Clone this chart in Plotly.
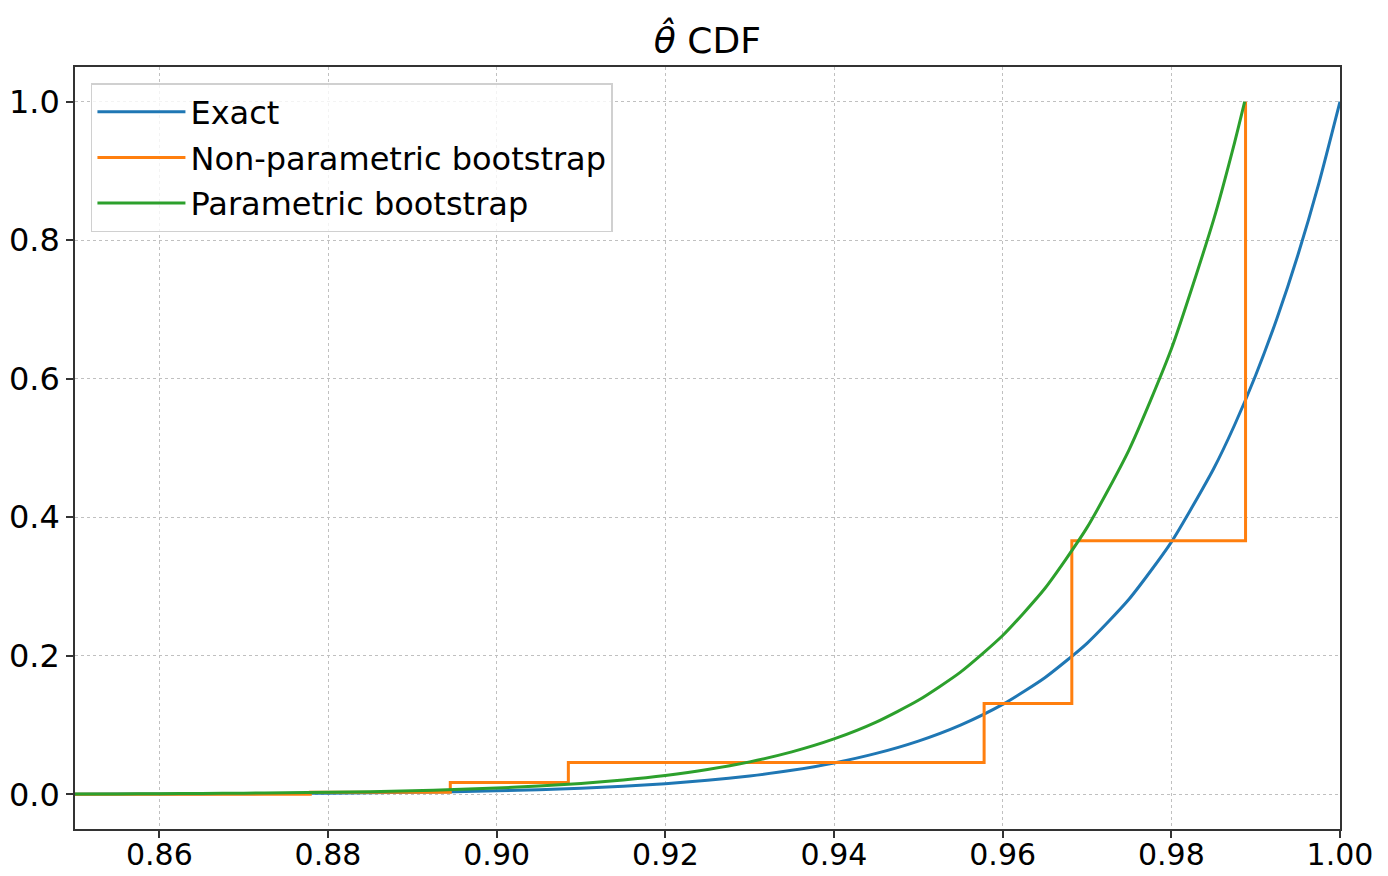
import plotly.graph_objects as go

# Exact CDF
exact_x = [0.85, 0.855, 0.86, 0.865, 0.87, 0.875, 0.88, 0.885, 0.89, 0.895,
           0.90, 0.905, 0.91, 0.915, 0.92, 0.925, 0.93, 0.935, 0.94, 0.945,
           0.95, 0.955, 0.96, 0.965, 0.97, 0.975, 0.98, 0.985, 0.9875, 0.99,
           0.9925, 0.995, 0.9975, 1.00]
exact_y = [0.0003, 0.0004, 0.0005, 0.0007, 0.0009, 0.0013, 0.0017, 0.0022, 0.0029, 0.0039,
           0.0052, 0.0068, 0.0090, 0.0118, 0.0155, 0.0203, 0.0266, 0.0347, 0.0453, 0.0591,
           0.0769, 0.1000, 0.1299, 0.1684, 0.2181, 0.2820, 0.3642, 0.4697, 0.5332, 0.6050,
           0.6863, 0.7783, 0.8824, 1.0000]

# Non-parametric bootstrap (step function)
npb_x = [0.85, 0.8779, 0.8945, 0.9085, 0.9578, 0.9682, 0.9888]
npb_y = [0.0, 0.003, 0.017, 0.046, 0.131, 0.366, 1.0]

# Parametric bootstrap
pb_x = [0.85, 0.855, 0.86, 0.865, 0.87, 0.875, 0.88, 0.885, 0.89, 0.895,
        0.90, 0.905, 0.91, 0.915, 0.92, 0.925, 0.93, 0.935, 0.94, 0.945,
        0.95, 0.955, 0.96, 0.965, 0.97, 0.975, 0.98, 0.985, 0.9875, 0.9887]
pb_y = [0.0005, 0.0007, 0.0009, 0.0013, 0.0017, 0.0022, 0.0030, 0.0039, 0.0052, 0.0069,
        0.0091, 0.0120, 0.0158, 0.0208, 0.0273, 0.0358, 0.0469, 0.0613, 0.0800, 0.1043,
        0.1358, 0.1765, 0.2293, 0.2972, 0.3850, 0.4977, 0.6428, 0.8290, 0.9410, 1.0000]

x_ticks = [0.86, 0.88, 0.90, 0.92, 0.94, 0.96, 0.98, 1.00]
y_ticks = [0.0, 0.2, 0.4, 0.6, 0.8, 1.0]

FONT = "DejaVu Sans"

fig = go.Figure()
fig.add_trace(go.Scatter(x=exact_x, y=exact_y, mode="lines", name="Exact", legendgroup="a",
                         line=dict(color="#1f77b4", width=3, shape="spline", smoothing=0.6)))
fig.add_trace(go.Scatter(x=npb_x, y=npb_y, mode="lines", name="Non-parametric bootstrap", legendgroup="b",
                         line=dict(color="#ff7f0e", width=3, shape="hv")))
fig.add_trace(go.Scatter(x=pb_x, y=pb_y, mode="lines", name="Parametric bootstrap", legendgroup="c",
                         line=dict(color="#2ca02c", width=3, shape="spline", smoothing=0.6)))

axis_common = dict(
    showline=True, linecolor="#333333", linewidth=1.5, mirror=True,
    ticks="outside", ticklen=7, tickwidth=1.5, tickcolor="#333333",
    showgrid=True, gridcolor="#c0c0c0", griddash="dot", gridwidth=1,
    zeroline=False, automargin=False,
)

fig.update_layout(
    width=1388, height=876,
    paper_bgcolor="white", plot_bgcolor="white",
    margin=dict(l=75, r=48, t=67, b=47),
    font=dict(family=FONT, color="black"),
    title=dict(text="<i>θ̂</i> CDF", x=0.5096, xanchor="center", y=0.954, yanchor="middle",
               font=dict(family=FONT, size=36, color="black")),
    xaxis=dict(range=[0.85, 1.0], tickvals=x_ticks, ticktext=[f"{v:.2f}" for v in x_ticks],
               ticklabelstandoff=-9, tickfont=dict(family=FONT, size=30, color="black"),
               **axis_common),
    yaxis=dict(range=[-0.05, 1.05], tickvals=y_ticks, ticktext=[f"{v:.1f}" for v in y_ticks],
               tickfont=dict(family=FONT, size=32, color="black"), **axis_common),
    legend=dict(x=0.0126, y=0.979, xanchor="left", yanchor="top",
                bgcolor="rgba(255,255,255,0.8)", bordercolor="#d0d0d0", borderwidth=1.5,
                font=dict(family=FONT, size=32, color="black"), itemwidth=88,
                traceorder="grouped", tracegroupgap=1),
    showlegend=True,
)

fig.write_html("out.html", config={"displayModeBar": False},
               post_script="document.body.style.margin='0';")
